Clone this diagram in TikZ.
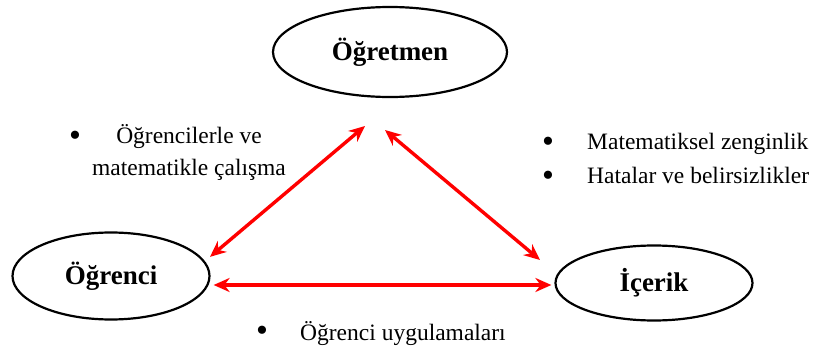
\documentclass[tikz,border=0pt]{standalone}
\usepackage{fontspec}
\setmainfont{Liberation Serif}
\usetikzlibrary{shapes.geometric, arrows.meta, positioning}

\begin{document}
\begin{tikzpicture}[
    x=1pt, y=-1pt,
    role/.style={ellipse, draw, line width=2.2pt, inner sep=0pt, font=\fontsize{27}{30}\selectfont\bfseries},
    note/.style={font=\fontsize{23.5}{32}\selectfont, inner sep=0pt},
    dot/.style={font=\fontsize{34}{34}\selectfont, inner sep=0pt, text depth=0pt, text height=12pt, anchor=base},
    link/.style={{Stealth[length=16pt,width=14pt]}-{Stealth[length=16pt,width=14pt]}, line width=3.4pt, red}
]
\useasboundingbox (0,0) rectangle (815,348);

% the three corners
\node[role, minimum width=234pt, minimum height=90pt] (ogretmen) at (390,52) {Öğretmen};
\node[role, minimum width=197pt, minimum height=87pt] (ogrenci) at (111,276) {Öğrenci};
\node[role, minimum width=197pt, minimum height=75pt] (icerik) at (654,283) {İçerik};

% arrow ends below the top node
\coordinate (ogretmenL) at (365,126);
\coordinate (ogretmenR) at (385,130);
\coordinate (icerikL) at (540,260);

\draw[link] (ogretmenL) -- ([xshift=9pt]ogrenci.12);
\draw[link] (ogretmenR) -- (icerikL);
\draw[link] ([xshift=3pt,yshift=-9pt]ogrenci.east) -- ([xshift=-3pt,yshift=-9pt]ogrenci.east -| icerik.west);

% side notes
\node[dot] (dotL) at (75,146) {•};
\node[note, align=center, anchor=base] (notL) at (189,175) {Öğrencilerle ve\\matematikle çalışma};

\node[dot] (dotR1) at (548,152) {•};
\node[note, anchor=base west] (notR1) at (587,149) {Matematiksel zenginlik};
\node[dot] (dotR2) at (548,186) {•};
\node[note, anchor=base west] (notR2) at (587,183) {Hatalar ve belirsizlikler};

\node[dot] (dotB) at (262,341) {•};
\node[note, anchor=base west] (notB) at (300,340) {Öğrenci uygulamaları};

\end{tikzpicture}
\end{document}
